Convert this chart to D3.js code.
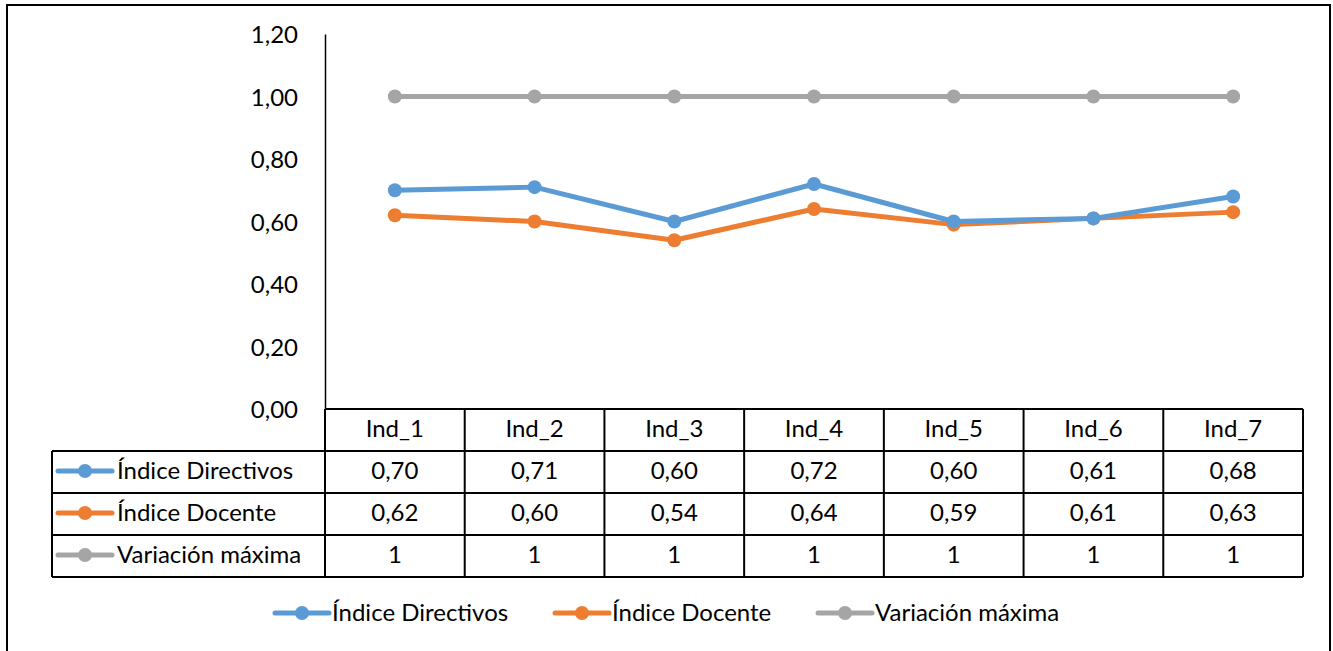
<!DOCTYPE html>
<meta charset="utf-8">
<style>
  body { margin: 0; background: #fff; }
  text { font-family: Lato, "Open Sans", sans-serif; fill: #000; }
</style>
<svg width="1333" height="651"></svg>
<script src="https://d3js.org/d3.v7.min.js"></script>
<script>
const categories = ["Ind_1", "Ind_2", "Ind_3", "Ind_4", "Ind_5", "Ind_6", "Ind_7"];
const directivos = [0.70, 0.71, 0.60, 0.72, 0.60, 0.61, 0.68];
const docente = [0.62, 0.60, 0.54, 0.64, 0.59, 0.61, 0.63];
const variacion = [1, 1, 1, 1, 1, 1, 1];
const yTicks = [0, 0.2, 0.4, 0.6, 0.8, 1.0, 1.2];

const series = [
  { name: "Índice Directivos", values: directivos, color: "#5B9BD5", fmt: d3.format(".2f") },
  { name: "Índice Docente", values: docente, color: "#ED7D31", fmt: d3.format(".2f") },
  { name: "Variación máxima", values: variacion, color: "#A5A5A5", fmt: d => String(d) }
];
const comma = s => s.replace(".", ",");

const svg = d3.select("svg");
const fontSize = 24;

// outer border (chart area frame)
svg.append("rect")
    .attr("x", 7).attr("y", 5).attr("width", 1323).attr("height", 660)
    .attr("fill", "none").attr("stroke", "#000").attr("stroke-width", 2);

const plotLeft = 325, plotRight = 1303, plotTop = 34, base = 409;
const rowH = 42;

const x = d3.scaleBand().domain(categories).range([plotLeft, plotRight]);
const y = d3.scaleLinear().domain([0, 1.2]).range([base, plotTop]);

// y axis
const yAxis = svg.append("g")
    .attr("transform", `translate(${plotLeft},0)`)
    .call(d3.axisLeft(y).tickValues(yTicks).tickSize(0).tickPadding(27)
      .tickFormat(d => comma(d3.format(".2f")(d))));
yAxis.select(".domain").attr("stroke", "#000").attr("stroke-width", 1.5);
yAxis.selectAll("text").attr("font-size", fontSize).attr("font-family", "Lato, sans-serif")
    .attr("fill", "#000").attr("dy", "0.36em");

// lines
const line = d3.line()
    .x((d, i) => x(categories[i]) + x.bandwidth() / 2)
    .y(d => y(d));

series.slice().reverse().forEach(s => {
  svg.append("path")
      .datum(s.values)
      .attr("fill", "none")
      .attr("stroke", s.color)
      .attr("stroke-width", 5)
      .attr("stroke-linejoin", "round")
      .attr("d", line);
  svg.append("g").selectAll("circle")
    .data(s.values)
    .join("circle")
      .attr("cx", (d, i) => x(categories[i]) + x.bandwidth() / 2)
      .attr("cy", d => y(d))
      .attr("r", 7)
      .attr("fill", s.color);
});

// data table
const tableLeft = 52;
const table = svg.append("g");
const tStroke = "#000";

table.append("line").attr("x1", plotLeft).attr("x2", plotRight).attr("y1", base).attr("y2", base)
    .attr("stroke", tStroke).attr("stroke-width", 2);
categories.forEach(c => {
  table.append("text")
      .attr("x", x(c) + x.bandwidth() / 2)
      .attr("y", base + rowH / 2)
      .attr("dy", "0.3em")
      .attr("text-anchor", "middle")
      .attr("font-size", fontSize)
      .text(c);
});

for (let r = 1; r <= series.length + 1; r++) {
  table.append("line")
      .attr("x1", tableLeft).attr("x2", plotRight)
      .attr("y1", base + r * rowH).attr("y2", base + r * rowH)
      .attr("stroke", tStroke).attr("stroke-width", 2);
}
const bottom = base + (series.length + 1) * rowH;
[plotLeft].concat(categories.map(c => x(c) + x.bandwidth())).forEach(xv => {
  table.append("line")
      .attr("x1", xv).attr("x2", xv)
      .attr("y1", base).attr("y2", bottom)
      .attr("stroke", tStroke).attr("stroke-width", 2);
});
table.append("line")
    .attr("x1", tableLeft).attr("x2", tableLeft)
    .attr("y1", base + rowH).attr("y2", bottom)
    .attr("stroke", tStroke).attr("stroke-width", 2);

series.forEach((s, r) => {
  const cy = base + (r + 1) * rowH + rowH / 2;
  table.append("line")
      .attr("x1", 58).attr("x2", 112).attr("y1", cy - 1).attr("y2", cy - 1)
      .attr("stroke", s.color).attr("stroke-width", 5).attr("stroke-linecap", "round");
  table.append("circle").attr("cx", 85).attr("cy", cy - 1).attr("r", 7).attr("fill", s.color);
  table.append("text")
      .attr("x", 117).attr("y", cy).attr("dy", "0.3em")
      .attr("font-size", fontSize)
      .text(s.name);
  s.values.forEach((v, i) => {
    table.append("text")
        .attr("x", x(categories[i]) + x.bandwidth() / 2)
        .attr("y", cy).attr("dy", "0.3em")
        .attr("text-anchor", "middle")
        .attr("font-size", fontSize)
        .text(comma(s.fmt(v)));
  });
});

// legend
const legendX = [273, 553, 816];
const legendY = 613;
series.forEach((s, i) => {
  const g = svg.append("g").attr("transform", `translate(${legendX[i]},${legendY})`);
  g.append("line").attr("x1", 2).attr("x2", 56).attr("y1", 0).attr("y2", 0)
      .attr("stroke", s.color).attr("stroke-width", 5).attr("stroke-linecap", "round");
  g.append("circle").attr("cx", 29).attr("cy", 0).attr("r", 7).attr("fill", s.color);
  g.append("text").attr("x", 59).attr("y", 1).attr("dy", "0.3em")
      .attr("font-size", fontSize).text(s.name);
});
</script>
